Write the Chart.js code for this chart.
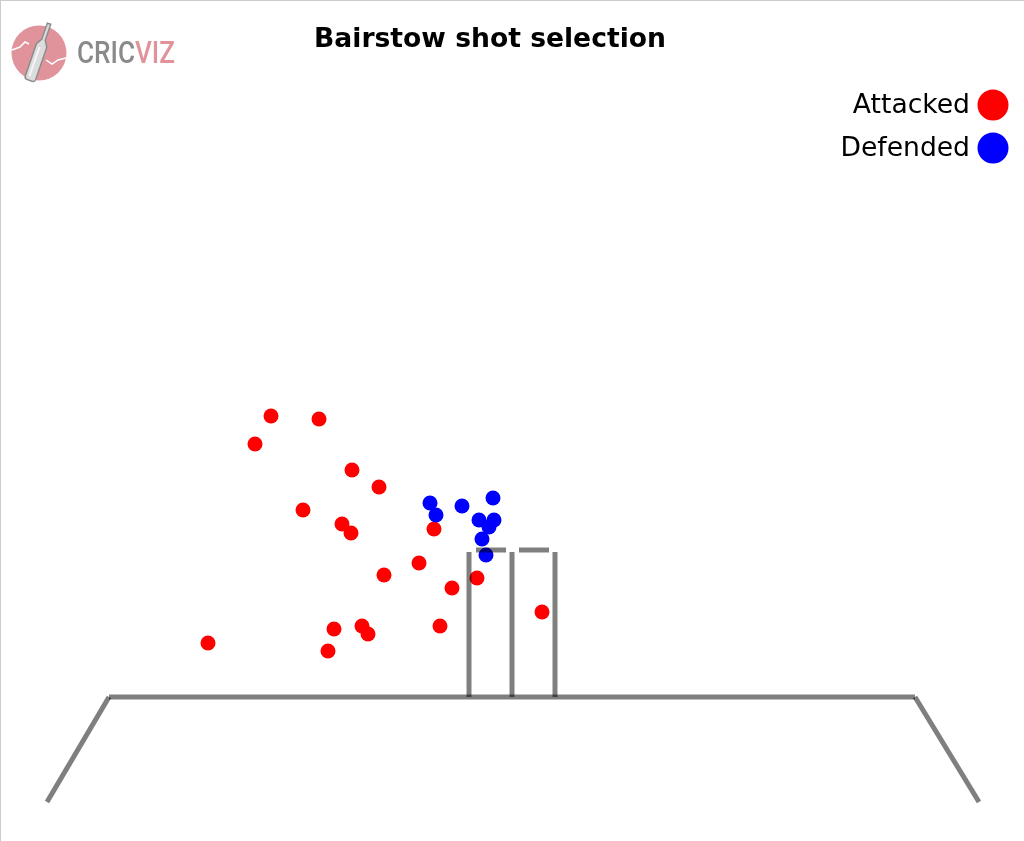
<!DOCTYPE html>
<html>
<head>
<meta charset="utf-8">
<script src="https://cdn.jsdelivr.net/npm/chart.js@4"></script>
<style>
  body { margin: 0; background: #fff; }
  #wrap { width: 1024px; height: 841px; position: relative; }
</style>
</head>
<body>
<div id="wrap"><canvas id="shots" width="1024" height="841"></canvas></div>
<script>
// x = lateral position (0 = middle stump), y = height above the crease line
const titleText = 'Bairstow shot selection';
const seriesNames = ['Attacked', 'Defended'];
const seriesColors = ['#ff0000', '#0000ff'];

const attackedX = [-241, -193, -257, -160, -133, -209, -170, -161, -78, -93, -128, -60, -35, 30, -72, -150, -144, -178, -184, -304];
const attackedY = [281, 278, 253, 227, 210, 187, 173, 164, 168, 134, 122, 109, 119, 85, 71, 71, 63, 68, 46, 54];

const defendedX = [-82, -76, -50, -19, -33, -18, -23, -30, -26];
const defendedY = [194, 182, 191, 199, 177, 177, 170, 158, 142];

// wicket and pitch outline
const stumpX = [-43, 0, 43];
const stumpHeight = 145;
const bailY = 147;
const bailsX = [[-36, -6], [7, 37]];
const groundX = [-403, 403];
const pitchEdgeX = [[-403, -465], [403, 467]];
const pitchEdgeY = [0, -105];

function toPoints(xs, ys) {
    return xs.map((x, i) => ({ x: x, y: ys[i] }));
}

const lineStyle = {
    showLine: true,
    pointRadius: 0,
    pointHoverRadius: 0,
    borderColor: 'rgba(0,0,0,0.5)',
    borderWidth: 5,
    borderCapStyle: 'butt',
    order: 0
};

const datasets = [
    {
        label: seriesNames[0],
        data: toPoints(attackedX, attackedY),
        backgroundColor: seriesColors[0],
        borderWidth: 0,
        pointRadius: 7.5,
        order: 2
    },
    {
        label: seriesNames[1],
        data: toPoints(defendedX, defendedY),
        backgroundColor: seriesColors[1],
        borderWidth: 0,
        pointRadius: 7.5,
        order: 1
    }
];

stumpX.forEach(x => {
    datasets.push(Object.assign({ data: [{ x: x, y: 0 }, { x: x, y: stumpHeight }] }, lineStyle));
});
bailsX.forEach(b => {
    datasets.push(Object.assign({ data: [{ x: b[0], y: bailY }, { x: b[1], y: bailY }] }, lineStyle));
});
datasets.push(Object.assign({ data: [{ x: groundX[0], y: 0 }, { x: groundX[1], y: 0 }] }, lineStyle));
pitchEdgeX.forEach(e => {
    datasets.push(Object.assign({ data: [{ x: e[0], y: pitchEdgeY[0] }, { x: e[1], y: pitchEdgeY[1] }] }, lineStyle));
});

// titulo, legenda, logo e borda desenhados por cima do grafico
const decorations = {
    id: 'decorations',
    afterDraw(chart) {
        const ctx = chart.ctx;
        ctx.save();

        ctx.fillStyle = '#000';
        ctx.font = 'bold 26.6px "DejaVu Sans"';
        ctx.textAlign = 'center';
        ctx.textBaseline = 'middle';
        ctx.fillText(titleText, 490, 40);

        ctx.font = '26.6px "DejaVu Sans"';
        ctx.textAlign = 'right';
        seriesNames.forEach((name, i) => {
            const y = 105 + i * 43;
            ctx.fillStyle = '#000';
            ctx.fillText(name, 970, y + 1);
            ctx.fillStyle = seriesColors[i];
            ctx.beginPath();
            ctx.arc(993, y, 15.5, 0, Math.PI * 2);
            ctx.fill();
        });

        // logo
        ctx.fillStyle = '#e0939a';
        ctx.beginPath();
        ctx.arc(39, 53, 27.5, 0, Math.PI * 2);
        ctx.fill();
        ctx.strokeStyle = '#fff';
        ctx.lineWidth = 1.5;
        ctx.beginPath();
        ctx.moveTo(12, 50);
        ctx.lineTo(20, 47);
        ctx.lineTo(25, 42);
        ctx.lineTo(29, 44);
        ctx.moveTo(46, 60);
        ctx.lineTo(52, 64);
        ctx.lineTo(58, 60);
        ctx.lineTo(66, 58);
        ctx.stroke();

        ctx.save();
        ctx.translate(39, 53);
        ctx.rotate(0.33);
        ctx.fillStyle = '#dcdcdc';
        ctx.strokeStyle = '#8c8c8c';
        ctx.lineWidth = 1.5;
        ctx.beginPath();
        ctx.moveTo(-1.8, -31);
        ctx.lineTo(1.8, -31);
        ctx.lineTo(1.8, -14);
        ctx.lineTo(5.5, -8);
        ctx.lineTo(5.5, 26);
        ctx.quadraticCurveTo(5.5, 29, 2.5, 29);
        ctx.lineTo(-2.5, 29);
        ctx.quadraticCurveTo(-5.5, 29, -5.5, 26);
        ctx.lineTo(-5.5, -8);
        ctx.lineTo(-1.8, -14);
        ctx.closePath();
        ctx.fill();
        ctx.stroke();
        ctx.fillStyle = '#f4f4f4';
        ctx.fillRect(-2.5, -6, 2, 31);
        ctx.restore();

        ctx.textAlign = 'left';
        ctx.textBaseline = 'alphabetic';
        ctx.font = '500 31px Roboto';
        const cricW = ctx.measureText('CRIC').width;
        const vizW = ctx.measureText('VIZ').width;
        const sx = 98 / (cricW + vizW);
        ctx.save();
        ctx.translate(77, 63);
        ctx.scale(sx, 1);
        ctx.fillStyle = '#8a8a8a';
        ctx.fillText('CRIC', 0, 0);
        ctx.fillStyle = '#e0939a';
        ctx.fillText('VIZ', cricW, 0);
        ctx.restore();

        ctx.fillStyle = '#cccccc';
        ctx.fillRect(0, 0, chart.width, 1);
        ctx.fillRect(0, 0, 1, chart.height);
        ctx.restore();
    }
};

const chart = new Chart(document.getElementById('shots').getContext('2d'), {
    type: 'scatter',
    data: { datasets: datasets },
    options: {
        responsive: false,
        animation: false,
        layout: { padding: 0, autoPadding: false },
        scales: {
            x: { type: 'linear', display: false, min: -512, max: 512 },
            y: { type: 'linear', display: false, min: -144, max: 697 }
        },
        plugins: {
            legend: { display: false },
            tooltip: { enabled: false },
            title: { display: false }
        }
    },
    plugins: [decorations]
});
</script>
</body>
</html>
